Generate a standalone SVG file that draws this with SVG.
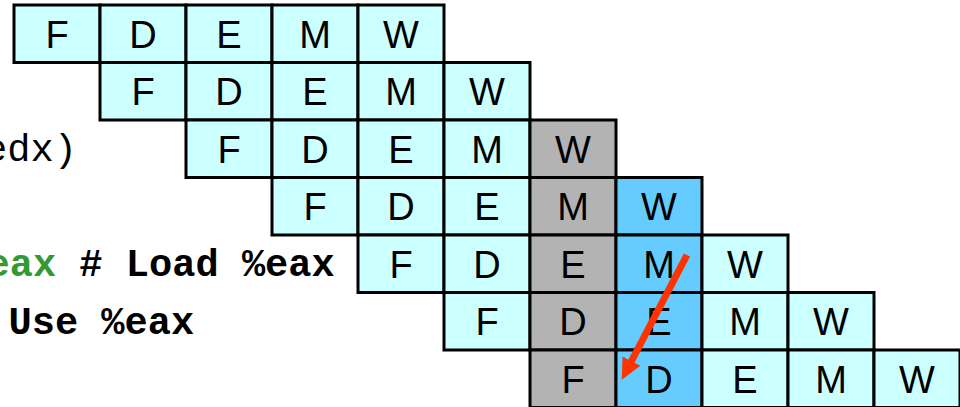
<svg xmlns="http://www.w3.org/2000/svg" width="960" height="407" viewBox="0 0 960 407">
<style>
.c rect{stroke:#000;stroke-width:3}
.cy{fill:#CCFFFF}
.gr{fill:#B3B3B3}
.bl{fill:#66CCFF}
.c text{font-family:"Liberation Sans",Arial,sans-serif;font-size:38px;text-anchor:middle;fill:#000}
.code{font-family:"Liberation Mono","Courier New",monospace;font-size:38.7px;fill:#000}
.b{font-weight:bold}
.g{fill:#339933}
</style>
<defs>
<marker id="ah" markerUnits="userSpaceOnUse" markerWidth="24" markerHeight="22" refX="1" refY="10" orient="auto">
<path d="M0,0 L21,10 L0,20 z" fill="#FF3300"/>
</marker>
</defs>
<rect width="960" height="407" fill="#fff"/>
<g id="code">
<text class="code" x="-16" y="161">edx)</text>
<text class="code b" x="-13.5" y="276"><tspan class="g">eax</tspan> # Load %eax</text>
<text class="code b" x="8.5" y="334">Use %eax</text>
</g>
<g id="row1">
<g id="r1F" class="c"><rect class="cy" x="14" y="5" width="86" height="57.5"/><text x="57" y="47.75">F</text></g>
<g id="r1D" class="c"><rect class="cy" x="100" y="5" width="86" height="57.5"/><text x="143" y="47.75">D</text></g>
<g id="r1E" class="c"><rect class="cy" x="186" y="5" width="86" height="57.5"/><text x="229" y="47.75">E</text></g>
<g id="r1M" class="c"><rect class="cy" x="272" y="5" width="86" height="57.5"/><text x="315" y="47.75">M</text></g>
<g id="r1W" class="c"><rect class="cy" x="358" y="5" width="86" height="57.5"/><text x="401" y="47.75">W</text></g>
</g>
<g id="row2">
<g id="r2F" class="c"><rect class="cy" x="100" y="62.5" width="86" height="57.5"/><text x="143" y="105.25">F</text></g>
<g id="r2D" class="c"><rect class="cy" x="186" y="62.5" width="86" height="57.5"/><text x="229" y="105.25">D</text></g>
<g id="r2E" class="c"><rect class="cy" x="272" y="62.5" width="86" height="57.5"/><text x="315" y="105.25">E</text></g>
<g id="r2M" class="c"><rect class="cy" x="358" y="62.5" width="86" height="57.5"/><text x="401" y="105.25">M</text></g>
<g id="r2W" class="c"><rect class="cy" x="444" y="62.5" width="86" height="57.5"/><text x="487" y="105.25">W</text></g>
</g>
<g id="row3">
<g id="r3F" class="c"><rect class="cy" x="186" y="120" width="86" height="57.5"/><text x="229" y="162.75">F</text></g>
<g id="r3D" class="c"><rect class="cy" x="272" y="120" width="86" height="57.5"/><text x="315" y="162.75">D</text></g>
<g id="r3E" class="c"><rect class="cy" x="358" y="120" width="86" height="57.5"/><text x="401" y="162.75">E</text></g>
<g id="r3M" class="c"><rect class="cy" x="444" y="120" width="86" height="57.5"/><text x="487" y="162.75">M</text></g>
<g id="r3W" class="c"><rect class="gr" x="530" y="120" width="86" height="57.5"/><text x="573" y="162.75">W</text></g>
</g>
<g id="row4">
<g id="r4F" class="c"><rect class="cy" x="272" y="177.5" width="86" height="57.5"/><text x="315" y="220.25">F</text></g>
<g id="r4D" class="c"><rect class="cy" x="358" y="177.5" width="86" height="57.5"/><text x="401" y="220.25">D</text></g>
<g id="r4E" class="c"><rect class="cy" x="444" y="177.5" width="86" height="57.5"/><text x="487" y="220.25">E</text></g>
<g id="r4M" class="c"><rect class="gr" x="530" y="177.5" width="86" height="57.5"/><text x="573" y="220.25">M</text></g>
<g id="r4W" class="c"><rect class="bl" x="616" y="177.5" width="86" height="57.5"/><text x="659" y="220.25">W</text></g>
</g>
<g id="row5">
<g id="r5F" class="c"><rect class="cy" x="358" y="235" width="86" height="57.5"/><text x="401" y="277.75">F</text></g>
<g id="r5D" class="c"><rect class="cy" x="444" y="235" width="86" height="57.5"/><text x="487" y="277.75">D</text></g>
<g id="r5E" class="c"><rect class="gr" x="530" y="235" width="86" height="57.5"/><text x="573" y="277.75">E</text></g>
<g id="r5M" class="c"><rect class="bl" x="616" y="235" width="86" height="57.5"/><text x="659" y="277.75">M</text></g>
<g id="r5W" class="c"><rect class="cy" x="702" y="235" width="86" height="57.5"/><text x="745" y="277.75">W</text></g>
</g>
<g id="row6">
<g id="r6F" class="c"><rect class="cy" x="444" y="292.5" width="86" height="57.5"/><text x="487" y="335.25">F</text></g>
<g id="r6D" class="c"><rect class="gr" x="530" y="292.5" width="86" height="57.5"/><text x="573" y="335.25">D</text></g>
<g id="r6E" class="c"><rect class="bl" x="616" y="292.5" width="86" height="57.5"/><text x="659" y="335.25">E</text></g>
<g id="r6M" class="c"><rect class="cy" x="702" y="292.5" width="86" height="57.5"/><text x="745" y="335.25">M</text></g>
<g id="r6W" class="c"><rect class="cy" x="788" y="292.5" width="86" height="57.5"/><text x="831" y="335.25">W</text></g>
</g>
<g id="row7">
<g id="r7F" class="c"><rect class="gr" x="530" y="350" width="86" height="57.5"/><text x="573" y="392.75">F</text></g>
<g id="r7D" class="c"><rect class="bl" x="616" y="350" width="86" height="57.5"/><text x="659" y="392.75">D</text></g>
<g id="r7E" class="c"><rect class="cy" x="702" y="350" width="86" height="57.5"/><text x="745" y="392.75">E</text></g>
<g id="r7M" class="c"><rect class="cy" x="788" y="350" width="86" height="57.5"/><text x="831" y="392.75">M</text></g>
<g id="r7W" class="c"><rect class="cy" x="874" y="350" width="86" height="57.5"/><text x="917" y="392.75">W</text></g>
</g>
<g id="connectors">
<line x1="687" y1="255" x2="631" y2="362" stroke="#FF3300" stroke-width="7" marker-end="url(#ah)"/>
</g>
</svg>
